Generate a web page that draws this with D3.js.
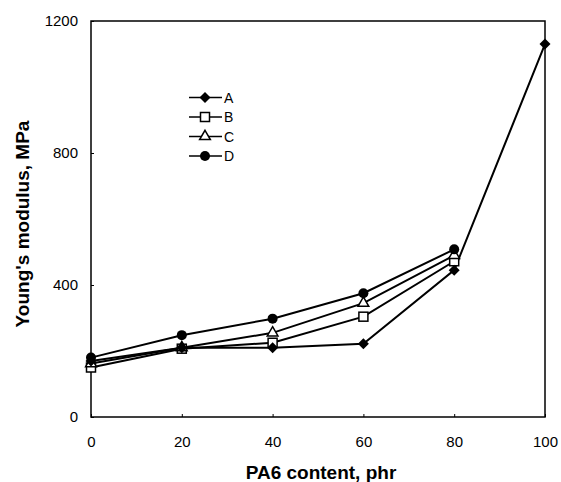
<!DOCTYPE html>
<html>
<head>
<meta charset="utf-8">
<script src="https://d3js.org/d3.v7.min.js"></script>
<style>
  body { margin: 0; background: #fff; }
  text { font-family: "Liberation Sans", Arial, sans-serif; fill: #000; }
</style>
</head>
<body>
<div id="chart"></div>
<script>
  // PA6 content (phr)
  const pa6 = [0, 20, 40, 60, 80, 100];

  // Young's modulus, MPa
  const seriesA = [170, 210, 210, 222, 445, 1130];
  const seriesB = [150, 207, 225, 304, 472];
  const seriesC = [162, 210, 255, 345, 490];
  const seriesD = [180, 248, 298, 375, 508];

  const names = ["A", "B", "C", "D"];
  const xTicks = [0, 20, 40, 60, 80, 100];
  const yTicks = [0, 400, 800, 1200];

  const width = 561, height = 482;
  const mLeft = 91, mRight = 545, mTop = 21, mBottom = 417;

  const svg = d3.select("#chart").append("svg")
    .attr("width", width).attr("height", height);

  const x = d3.scaleLinear().domain([0, 100]).range([mLeft, mRight]);
  const y = d3.scaleLinear().domain([0, 1200]).range([mBottom, mTop]);

  // axes (labels only, tiny inward ticks)
  const xAxis = svg.append("g")
    .attr("transform", `translate(0,${mBottom})`)
    .call(d3.axisBottom(x).tickValues(xTicks).tickSize(-3).tickPadding(19)
      .tickFormat(d3.format("d")));
  const yAxis = svg.append("g")
    .attr("transform", `translate(${mLeft},0)`)
    .call(d3.axisLeft(y).tickValues(yTicks).tickSize(-3).tickPadding(13)
      .tickFormat(d3.format("d")));

  [xAxis, yAxis].forEach(g => {
    g.select(".domain").remove();
    g.selectAll("line").attr("stroke", "#000");
    g.selectAll("text").style("font-size", "15px")
      .style("font-family", "'Liberation Sans', Arial, sans-serif");
  });

  // frame
  svg.append("rect")
    .attr("x", mLeft).attr("y", mTop)
    .attr("width", mRight - mLeft).attr("height", mBottom - mTop)
    .attr("fill", "none").attr("stroke", "#000").attr("stroke-width", 1.5);

  const line = d3.line()
    .x((d, i) => x(pa6[i]))
    .y(d => y(d));

  const data = [seriesA, seriesB, seriesC, seriesD];

  function marker(g, name, cx, cy) {
    if (name === "A") {
      g.append("path").attr("d", "M0,-5.5L5.5,0L0,5.5L-5.5,0Z")
        .attr("transform", `translate(${cx},${cy})`).attr("fill", "#000");
    } else if (name === "B") {
      g.append("rect").attr("x", cx - 4.5).attr("y", cy - 4.5)
        .attr("width", 9).attr("height", 9)
        .attr("fill", "#fff").attr("stroke", "#000").attr("stroke-width", 1.5);
    } else if (name === "C") {
      g.append("path").attr("d", d3.symbol(d3.symbolTriangle, 50)())
        .attr("transform", `translate(${cx},${cy})`)
        .attr("fill", "#fff").attr("stroke", "#000").attr("stroke-width", 1.5);
    } else {
      g.append("circle").attr("cx", cx).attr("cy", cy).attr("r", 5)
        .attr("fill", "#000");
    }
  }

  // lines first, then markers
  data.forEach(vals => {
    svg.append("path").datum(vals)
      .attr("fill", "none").attr("stroke", "#000").attr("stroke-width", 2)
      .attr("d", line);
  });
  // draw order so the filled markers sit on top
  [1, 2, 0, 3].forEach(k => {
    const g = svg.append("g");
    data[k].forEach((v, i) => marker(g, names[k], x(pa6[i]), y(v)));
  });

  // legend
  const leg = svg.append("g");
  names.forEach((n, i) => {
    const ly = 97.5 + i * 19.5;
    leg.append("line").attr("x1", 189).attr("x2", 222)
      .attr("y1", ly).attr("y2", ly)
      .attr("stroke", "#000").attr("stroke-width", 1.5);
    marker(leg, n, 205, ly);
    leg.append("text").attr("x", 224).attr("y", ly + 5)
      .style("font-size", "14px").text(n);
  });

  // axis titles
  svg.append("text")
    .attr("x", 321).attr("y", 479)
    .attr("text-anchor", "middle")
    .style("font-size", "19px").style("font-weight", "bold")
    .text("PA6 content, phr");

  svg.append("text")
    .attr("transform", "translate(29,224) rotate(-90)")
    .attr("text-anchor", "middle")
    .style("font-size", "19px").style("font-weight", "bold")
    .text("Young's modulus, MPa");
</script>
</body>
</html>
